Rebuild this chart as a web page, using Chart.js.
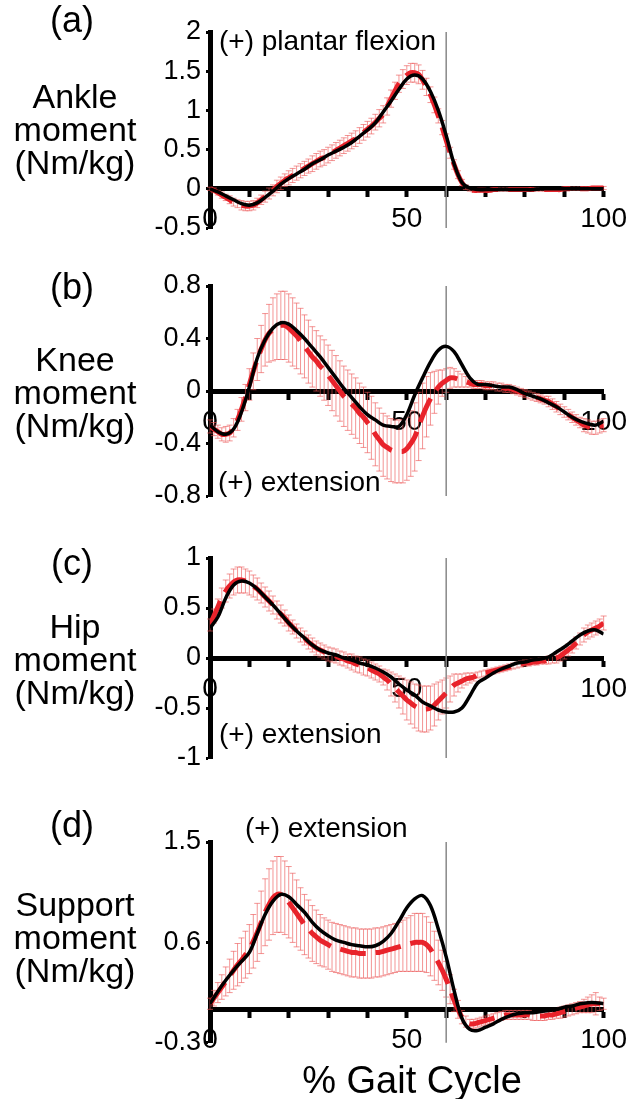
<!DOCTYPE html>
<html><head><meta charset="utf-8">
<script src="https://cdn.jsdelivr.net/npm/chart.js@4.4.0/dist/chart.umd.min.js"></script>
<style>
html,body{margin:0;padding:0;background:#fff;}
#wrap{position:relative;width:635px;height:1099px;overflow:hidden;font-family:"Liberation Sans",Arial,Helvetica,sans-serif;color:#000;}
canvas{position:absolute;left:0;}
.ytitle{position:absolute;left:0;width:150px;text-align:center;font-size:34px;line-height:33px;}
.plab{position:absolute;left:32px;width:80px;text-align:center;font-size:36px;line-height:40px;}
.ann{position:absolute;font-size:28px;line-height:30px;white-space:nowrap;}
.xt{position:absolute;left:212px;width:400px;text-align:center;font-size:38px;line-height:40px;}
</style></head>
<body><div id="wrap">
<canvas id="cA" width="635" height="262" style="top:0px"></canvas>
<canvas id="cB" width="635" height="270" style="top:262px"></canvas>
<canvas id="cC" width="635" height="270" style="top:532px"></canvas>
<canvas id="cD" width="635" height="262" style="top:802px"></canvas>

<div class="plab" style="top:0px">(a)</div>
<div class="plab" style="top:267px">(b)</div>
<div class="plab" style="top:543px">(c)</div>
<div class="plab" style="top:805px">(d)</div>

<div class="ytitle" style="top:80px">Ankle<br>moment<br>(Nm/kg)</div>
<div class="ytitle" style="top:343px">Knee<br>moment<br>(Nm/kg)</div>
<div class="ytitle" style="top:610px">Hip<br>moment<br>(Nm/kg)</div>
<div class="ytitle" style="top:888px">Support<br>moment<br>(Nm/kg)</div>

<div class="ann" style="left:219px;top:26px">(+) plantar flexion</div>
<div class="ann" style="left:218px;top:467px">(+) extension</div>
<div class="ann" style="left:219px;top:719px">(+) extension</div>
<div class="ann" style="left:245px;top:813px">(+) extension</div>

<div class="xt" style="top:1060px">% Gait Cycle</div>
</div>
<script>
// ---------------- DATA ----------------
const pct1 = [0,1,2,3,4,5,6,7,8,9,10,11,12,13,14,15,16,17,18,19,20,21,22,23,24,25,26,27,28,29,30,31,32,33,34,35,36,37,38,39,40,41,42,43,44,45,46,47,48,49,50,51,52,53,54,55,56,57,58,59,60,61,62,63,64,65,66,67,68,69,70,71,72,73,74,75,76,77,78,79,80,81,82,83,84,85,86,87,88,89,90,91,92,93,94,95,96,97,98,99,100];
const pct2 = [0,2,4,6,8,10,12,14,16,18,20,22,24,26,28,30,32,34,36,38,40,42,44,46,48,50,52,54,56,58,60,62,64,66,68,70,72,74,76,78,80,82,84,86,88,90,92,94,96,98,100];
const xTickValues = [0,10,20,30,40,50,60,70,80,90,100];
const xTickLabels = [0,50,100];
const stanceEnd = 60;

// (a) Ankle
const ankleYTicks = [-0.5,0,0.5,1,1.5,2];
const ankleBlack = [0,-0.04,-0.09,-0.14,-0.19,-0.21,-0.18,-0.11,-0.03,0.06,0.13,0.19,0.25,0.32,0.37,0.43,0.48,0.53,0.59,0.67,0.75,0.84,0.98,1.12,1.27,1.4,1.45,1.4,1.24,1.0,0.68,0.32,0.08,0.01,-0.01,-0.01,-0.01,-0.01,-0.01,-0.01,-0.01,-0.01,0,0,0,0,0,0,0,0,0];
const ankleRed = [0,-0.02,-0.05,-0.08,-0.11,-0.14,-0.17,-0.19,-0.21,-0.22,-0.22,-0.21,-0.18,-0.14,-0.1,-0.06,-0.02,0.03,0.07,0.11,0.14,0.17,0.2,0.23,0.26,0.29,0.32,0.35,0.38,0.4,0.43,0.46,0.49,0.52,0.55,0.58,0.61,0.64,0.68,0.72,0.76,0.8,0.85,0.9,0.95,1.05,1.15,1.25,1.34,1.4,1.45,1.48,1.48,1.46,1.39,1.3,1.2,1.07,0.93,0.78,0.62,0.46,0.31,0.18,0.08,0.02,-0.01,-0.02,-0.02,-0.02,-0.02,-0.02,-0.01,-0.01,-0.01,-0.01,-0.01,-0.01,-0.01,-0.01,-0.01,-0.01,-0.01,-0.01,-0.01,-0.01,-0.01,-0.01,-0.01,-0.01,0,0,0,0,0,0,0,0.01,0.01,0.01,0.01];
const ankleSD = [0.02,0.03,0.03,0.04,0.04,0.05,0.05,0.05,0.06,0.06,0.06,0.06,0.06,0.06,0.07,0.07,0.07,0.08,0.08,0.08,0.09,0.09,0.09,0.09,0.09,0.09,0.1,0.1,0.1,0.1,0.1,0.1,0.1,0.1,0.1,0.1,0.1,0.1,0.1,0.1,0.1,0.1,0.1,0.11,0.11,0.11,0.11,0.11,0.11,0.12,0.12,0.12,0.12,0.12,0.12,0.11,0.1,0.1,0.09,0.09,0.08,0.07,0.06,0.05,0.04,0.03,0.02,0.02,0.02,0.02,0.02,0.02,0.02,0.02,0.02,0.02,0.02,0.02,0.02,0.02,0.02,0.02,0.02,0.02,0.02,0.02,0.02,0.02,0.02,0.02,0.02,0.02,0.02,0.02,0.02,0.02,0.02,0.02,0.02,0.02,0.02];

// (b) Knee
const kneeYTicks = [-0.8,-0.4,0,0.4,0.8];
const kneeBlack = [-0.26,-0.31,-0.33,-0.29,-0.16,0.03,0.25,0.39,0.48,0.52,0.51,0.46,0.4,0.33,0.26,0.18,0.1,0.02,-0.05,-0.12,-0.18,-0.22,-0.26,-0.27,-0.27,-0.18,-0.03,0.1,0.22,0.31,0.34,0.3,0.2,0.1,0.05,0.05,0.04,0.03,0.03,0.01,-0.02,-0.04,-0.06,-0.09,-0.12,-0.16,-0.2,-0.23,-0.25,-0.26,-0.23];
const kneeRed = [-0.27,-0.29,-0.31,-0.33,-0.33,-0.32,-0.28,-0.22,-0.14,-0.05,0.05,0.15,0.24,0.32,0.39,0.44,0.47,0.49,0.5,0.5,0.48,0.45,0.42,0.38,0.34,0.3,0.26,0.23,0.19,0.16,0.12,0.08,0.04,0.0,-0.04,-0.07,-0.1,-0.13,-0.17,-0.2,-0.24,-0.28,-0.33,-0.37,-0.41,-0.43,-0.45,-0.46,-0.46,-0.46,-0.44,-0.4,-0.35,-0.27,-0.19,-0.12,-0.06,-0.01,0.03,0.06,0.08,0.1,0.1,0.09,0.08,0.07,0.06,0.05,0.05,0.05,0.04,0.04,0.04,0.03,0.03,0.02,0.02,0.01,0.0,-0.01,-0.02,-0.03,-0.04,-0.05,-0.06,-0.07,-0.08,-0.1,-0.12,-0.14,-0.16,-0.18,-0.2,-0.22,-0.24,-0.26,-0.27,-0.28,-0.28,-0.27,-0.26];
const kneeSD = [0.05,0.05,0.05,0.05,0.06,0.06,0.07,0.08,0.09,0.1,0.12,0.14,0.16,0.18,0.2,0.22,0.24,0.25,0.26,0.26,0.26,0.26,0.25,0.25,0.24,0.24,0.23,0.23,0.23,0.23,0.23,0.23,0.23,0.23,0.23,0.23,0.23,0.23,0.23,0.23,0.23,0.24,0.24,0.24,0.24,0.24,0.24,0.24,0.24,0.24,0.24,0.25,0.26,0.26,0.25,0.23,0.2,0.16,0.13,0.1,0.09,0.08,0.07,0.06,0.05,0.04,0.03,0.03,0.03,0.03,0.03,0.03,0.03,0.03,0.03,0.03,0.03,0.03,0.03,0.03,0.03,0.03,0.03,0.03,0.03,0.03,0.04,0.04,0.04,0.04,0.04,0.04,0.04,0.04,0.04,0.05,0.05,0.05,0.05,0.05,0.05];

// (c) Hip
const hipYTicks = [-1,-0.5,0,0.5,1];
const hipBlack = [0.3,0.41,0.6,0.73,0.77,0.75,0.69,0.61,0.53,0.44,0.35,0.27,0.2,0.13,0.08,0.05,0.03,0.0,-0.02,-0.05,-0.07,-0.1,-0.14,-0.19,-0.26,-0.32,-0.37,-0.44,-0.48,-0.52,-0.54,-0.54,-0.5,-0.38,-0.25,-0.2,-0.15,-0.11,-0.08,-0.05,-0.04,-0.02,-0.01,0.01,0.06,0.11,0.17,0.23,0.27,0.28,0.24];
const hipRed = [0.33,0.42,0.51,0.6,0.67,0.72,0.76,0.78,0.78,0.77,0.75,0.72,0.69,0.65,0.61,0.57,0.53,0.48,0.44,0.4,0.35,0.31,0.27,0.23,0.2,0.16,0.13,0.1,0.08,0.06,0.04,0.03,0.02,0.0,-0.01,-0.03,-0.04,-0.06,-0.07,-0.09,-0.1,-0.12,-0.14,-0.16,-0.19,-0.22,-0.26,-0.3,-0.34,-0.38,-0.42,-0.45,-0.48,-0.5,-0.51,-0.51,-0.5,-0.47,-0.43,-0.39,-0.35,-0.31,-0.27,-0.25,-0.23,-0.21,-0.2,-0.19,-0.17,-0.16,-0.15,-0.14,-0.13,-0.12,-0.11,-0.1,-0.09,-0.08,-0.07,-0.06,-0.05,-0.05,-0.04,-0.04,-0.03,-0.03,-0.02,-0.01,0.0,0.02,0.05,0.08,0.11,0.15,0.19,0.23,0.26,0.28,0.3,0.32,0.35];
const hipSD = [0.06,0.07,0.08,0.1,0.11,0.12,0.13,0.13,0.13,0.12,0.12,0.11,0.11,0.1,0.1,0.1,0.09,0.09,0.09,0.08,0.08,0.07,0.07,0.07,0.07,0.07,0.07,0.07,0.07,0.07,0.07,0.07,0.07,0.07,0.07,0.07,0.08,0.08,0.08,0.08,0.08,0.08,0.08,0.08,0.08,0.1,0.12,0.14,0.16,0.18,0.2,0.21,0.22,0.23,0.23,0.23,0.22,0.21,0.19,0.17,0.15,0.13,0.11,0.09,0.07,0.06,0.05,0.04,0.03,0.03,0.03,0.03,0.03,0.03,0.03,0.03,0.03,0.03,0.03,0.03,0.03,0.03,0.03,0.03,0.03,0.03,0.04,0.04,0.05,0.05,0.06,0.06,0.06,0.06,0.06,0.07,0.07,0.07,0.07,0.07,0.07];

// (d) Support
const supYTicks = [-0.3,0.6,1.5];
const supBlack = [0.05,0.16,0.26,0.35,0.43,0.51,0.68,0.85,0.97,1.03,1.01,0.94,0.87,0.78,0.71,0.66,0.62,0.6,0.58,0.57,0.56,0.57,0.61,0.68,0.79,0.91,0.99,1.02,0.93,0.72,0.47,0.17,-0.08,-0.18,-0.19,-0.16,-0.13,-0.09,-0.06,-0.04,-0.03,-0.03,-0.02,-0.01,0.0,0.02,0.03,0.05,0.06,0.06,0.05];
const supRed = [0.05,0.1,0.15,0.2,0.25,0.3,0.35,0.4,0.44,0.49,0.54,0.61,0.69,0.78,0.87,0.94,1.0,1.03,1.03,1.0,0.96,0.91,0.86,0.81,0.76,0.72,0.68,0.65,0.62,0.6,0.58,0.56,0.55,0.54,0.53,0.52,0.51,0.51,0.5,0.5,0.5,0.5,0.51,0.51,0.52,0.53,0.54,0.55,0.56,0.57,0.58,0.59,0.6,0.6,0.6,0.58,0.54,0.48,0.42,0.35,0.27,0.18,0.08,0.0,-0.07,-0.11,-0.13,-0.13,-0.12,-0.11,-0.1,-0.09,-0.08,-0.07,-0.06,-0.05,-0.05,-0.05,-0.05,-0.05,-0.05,-0.05,-0.06,-0.06,-0.06,-0.06,-0.05,-0.05,-0.04,-0.03,-0.02,-0.01,0.0,0.01,0.02,0.03,0.04,0.05,0.05,0.05,0.05];
const supSD = [0.05,0.07,0.09,0.11,0.13,0.15,0.17,0.19,0.2,0.21,0.22,0.24,0.26,0.28,0.3,0.32,0.33,0.34,0.34,0.33,0.32,0.31,0.3,0.28,0.27,0.26,0.25,0.24,0.23,0.22,0.22,0.22,0.22,0.22,0.22,0.22,0.22,0.22,0.22,0.22,0.22,0.22,0.22,0.22,0.22,0.22,0.22,0.22,0.22,0.23,0.24,0.25,0.26,0.26,0.26,0.25,0.24,0.22,0.2,0.18,0.16,0.13,0.1,0.08,0.06,0.05,0.04,0.04,0.04,0.04,0.04,0.04,0.04,0.04,0.04,0.04,0.04,0.04,0.04,0.04,0.04,0.04,0.04,0.04,0.04,0.04,0.04,0.04,0.04,0.05,0.05,0.05,0.05,0.05,0.05,0.06,0.07,0.08,0.1,0.06,0.05];

// ---------------- RENDER ----------------
const FONT = '"Liberation Sans", Arial, Helvetica, sans-serif';
const RED = '#e8232b';
const ERR = 'rgba(236,84,84,0.62)';

const errorBars = {
  id: 'errorBars',
  beforeDatasetsDraw(chart, args, o) {
    const {ctx} = chart; const xs = chart.scales.x, ys = chart.scales.y;
    ctx.save();
    ctx.strokeStyle = ERR; ctx.lineWidth = 1;
    for (let i = 0; i < o.xs.length; i++) {
      const px = xs.getPixelForValue(o.xs[i]);
      const yt = ys.getPixelForValue(o.mean[i] + o.sd[i]);
      const yb = ys.getPixelForValue(o.mean[i] - o.sd[i]);
      ctx.beginPath();
      ctx.moveTo(px, yt); ctx.lineTo(px, yb);
      ctx.moveTo(px - 3, yt); ctx.lineTo(px + 3, yt);
      ctx.moveTo(px - 3, yb); ctx.lineTo(px + 3, yb);
      ctx.stroke();
    }
    ctx.restore();
  }
};
const stanceLine = {
  id: 'stanceLine',
  beforeDatasetsDraw(chart, args, o) {
    const {ctx, chartArea} = chart;
    const px = chart.scales.x.getPixelForValue(o.value);
    ctx.save();
    ctx.strokeStyle = '#888'; ctx.lineWidth = 1.5;
    ctx.beginPath(); ctx.moveTo(px, chartArea.top); ctx.lineTo(px, chartArea.bottom); ctx.stroke();
    ctx.restore();
  }
};

function panel(id, black, red, sd, yTicks, padTop, padBottom) {
  new Chart(document.getElementById(id), {
    type: 'line',
    data: {
      datasets: [
        {data: pct2.map((x, i) => ({x, y: black[i]})), borderColor: '#000', borderWidth: 3.5,
         pointRadius: 0, tension: 0.35, fill: false},
        {data: pct1.map((x, i) => ({x, y: red[i]})), borderColor: RED, borderWidth: 5,
         borderDash: [26, 10], pointRadius: 0, tension: 0.3, fill: false}
      ]
    },
    options: {
      responsive: false, animation: false, devicePixelRatio: 1,
      layout: {padding: {left: 0, right: 28, top: padTop, bottom: padBottom}},
      plugins: {
        legend: {display: false}, tooltip: {enabled: false},
        errorBars: {xs: pct1, mean: red, sd: sd},
        stanceLine: {value: stanceEnd}
      },
      scales: {
        x: {
          type: 'linear', min: 0, max: 100, position: {y: 0},
          afterFit(s) { s.height = 0; },
          afterBuildTicks(s) { s.ticks = xTickValues.map(v => ({value: v})); },
          ticks: {autoSkip: false, maxRotation: 0, padding: 8, color: '#000',
                  font: {family: FONT, size: 28},
                  callback: v => xTickLabels.includes(v) ? String(v) : ''},
          grid: {drawOnChartArea: false, drawTicks: true, tickLength: 6, tickWidth: 4, color: '#000'},
          border: {display: true, width: 5, color: '#000'}
        },
        y: {
          type: 'linear', min: yTicks[0], max: yTicks[yTicks.length - 1], position: 'left',
          afterFit(s) { s.width = 210; },
          afterBuildTicks(s) { s.ticks = yTicks.map(v => ({value: v})); },
          ticks: {autoSkip: false, padding: 5, color: '#000', font: {family: FONT, size: 27},
                  callback: v => String(v)},
          grid: {drawOnChartArea: false, drawTicks: true, tickLength: 4, tickWidth: 3, color: '#000'},
          border: {display: true, width: 5, color: '#000'}
        }
      }
    },
    plugins: [errorBars, stanceLine]
  });
}

panel('cA', ankleBlack, ankleRed, ankleSD, ankleYTicks, 32, 34);
panel('cB', kneeBlack, kneeRed, kneeSD, kneeYTicks, 24, 36);
panel('cC', hipBlack, hipRed, hipSD, hipYTicks, 26, 44);
panel('cD', supBlack, supRed, supSD, supYTicks, 40, 21);
</script>
</body></html>
